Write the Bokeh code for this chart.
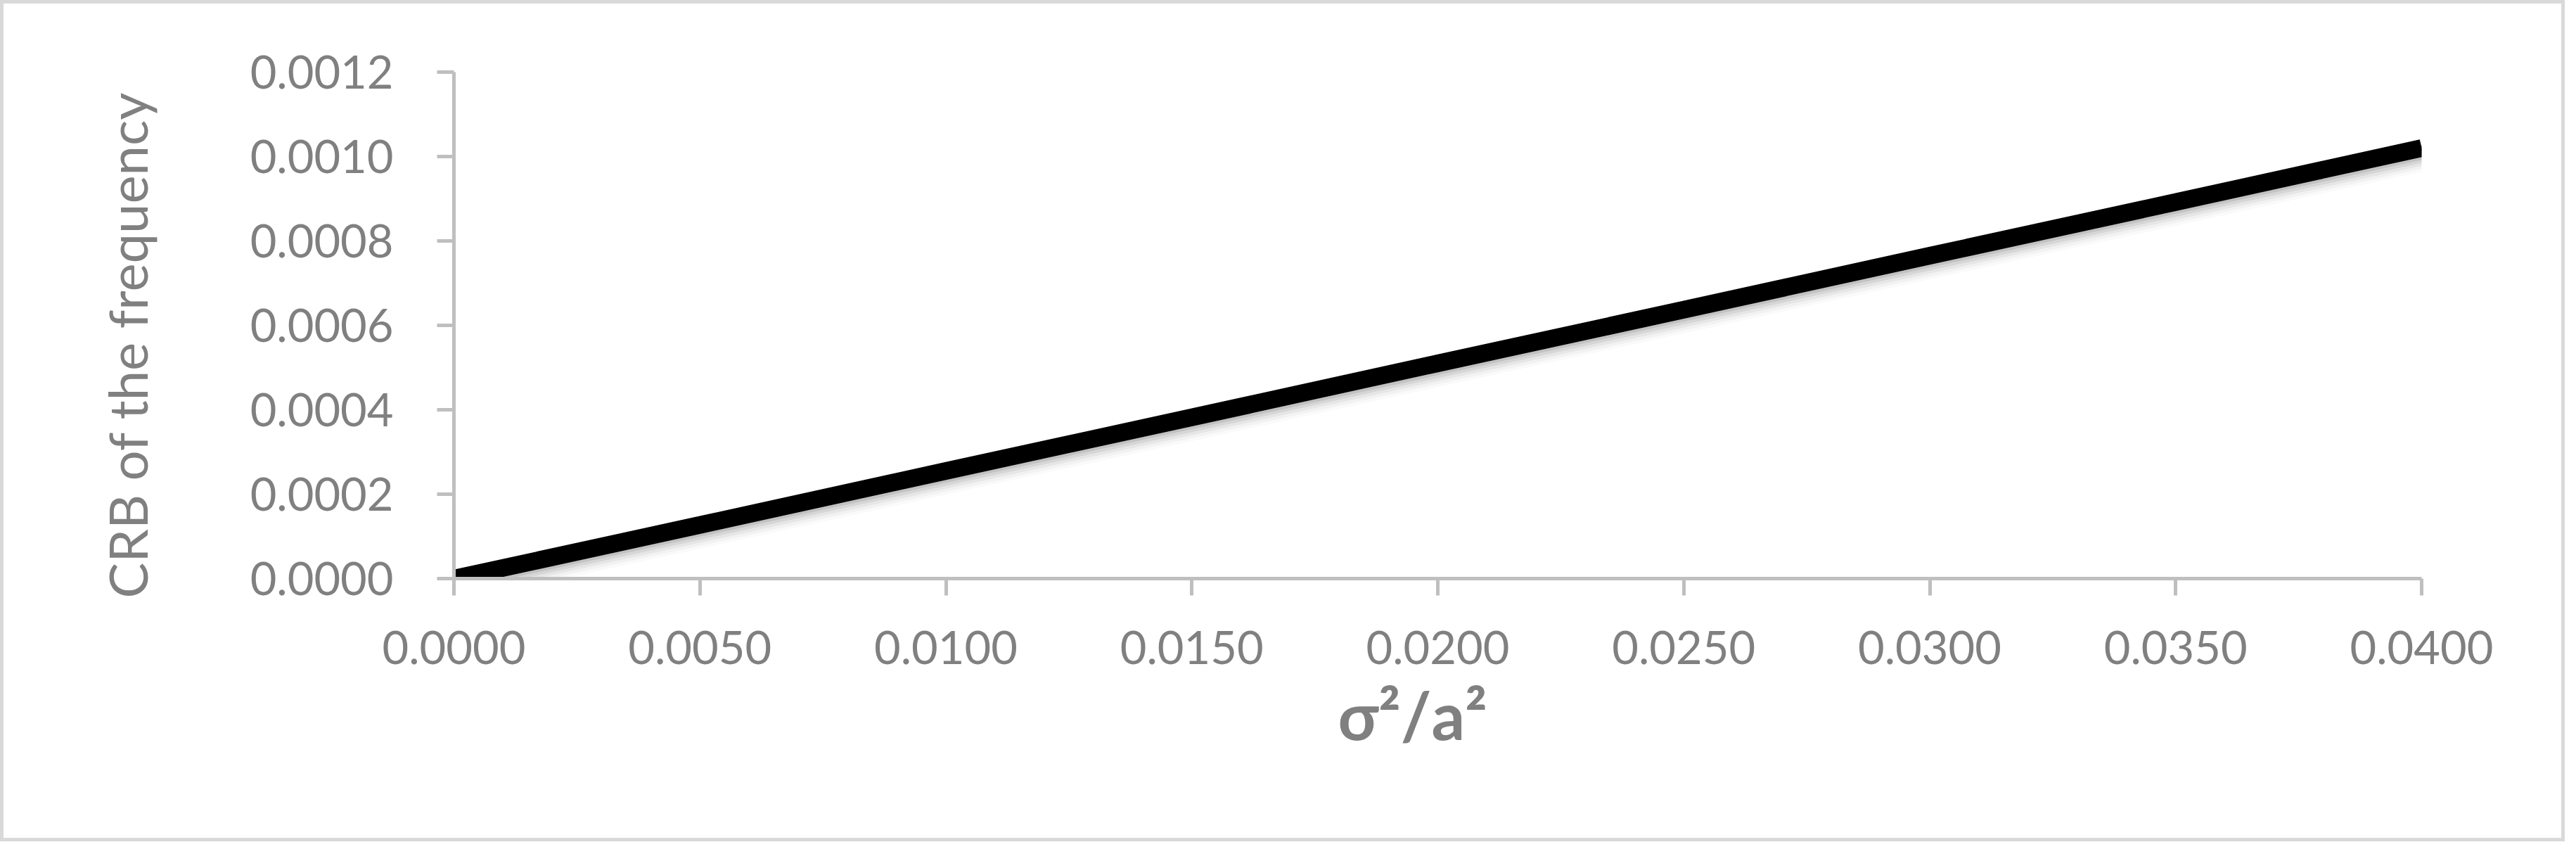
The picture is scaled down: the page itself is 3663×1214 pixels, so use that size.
from bokeh.plotting import figure
from bokeh.models import Range1d, FixedTicker, PrintfTickFormatter, ColumnDataSource, Title
from bokeh.transform import dodge
from bokeh.embed import file_html
from bokeh.resources import INLINE

# ---- data ----
x_values = [0.0000, 0.0050, 0.0100, 0.0150, 0.0200, 0.0250, 0.0300, 0.0350, 0.0400]
crb_values = [0.0000, 0.000127, 0.000255, 0.000382, 0.000510, 0.000637, 0.000765, 0.000892, 0.001020]
x_ticks = [0.0, 0.005, 0.01, 0.015, 0.02, 0.025, 0.03, 0.035, 0.04]
y_ticks = [0.0, 0.0002, 0.0004, 0.0006, 0.0008, 0.0010, 0.0012]
x_title = "σ²/a²"
y_title = "CRB of the frequency"

FONT = "Lato"
GRAY = "#808080"
AXIS = "#bfbfbf"
W, H = 3647, 1196

src = ColumnDataSource(dict(x=x_values, y=crb_values))

p = figure(width=W, height=H, output_backend="svg", toolbar_location=None,
           x_range=Range1d(0, 0.04), y_range=Range1d(0, 0.0012),
           min_border_left=639, min_border_right=209, min_border_top=97, min_border_bottom=379)
p.styles = {"border": "5px solid #d9d9d9"}
p.background_fill_color = "white"
p.border_fill_color = "white"
p.outline_line_color = None
p.grid.visible = False

# shadow imitation
for off, a in [(-0.000006, 0.16), (-0.000013, 0.12), (-0.000020, 0.08), (-0.000027, 0.05), (-0.000034, 0.03)]:
    p.line(x=dodge("x", 0.00003, range=p.x_range), y=dodge("y", off, range=p.y_range), source=src,
           line_color="#606060", line_alpha=a, line_width=25)

p.line("x", "y", source=src, line_color="#2470c8", line_width=7, line_cap="round")
p.line("x", "y", source=src, line_color="black", line_width=25, line_cap="butt")

for ax in (p.xaxis[0], p.yaxis[0]):
    ax.axis_line_color = AXIS
    ax.axis_line_width = 5
    ax.major_tick_line_color = AXIS
    ax.major_tick_line_width = 5
    ax.major_tick_out = 24
    ax.major_tick_in = 0
    ax.minor_tick_line_color = None
    ax.major_label_text_color = GRAY
    ax.major_label_text_font = FONT
    ax.major_label_text_font_size = "65px"

p.xaxis[0].ticker = FixedTicker(ticks=x_ticks)
p.yaxis[0].ticker = FixedTicker(ticks=y_ticks)
p.xaxis[0].formatter = PrintfTickFormatter(format="%.4f")
p.yaxis[0].formatter = PrintfTickFormatter(format="%.4f")
p.xaxis[0].major_label_standoff = 50
p.yaxis[0].major_label_standoff = 62

# axis titles as side titles (left-aligned with an offset along the axis)
p.add_layout(Title(text=x_title, align="left", offset=1257, standoff=20,
                   text_font=FONT, text_font_size="94px", text_font_style="bold",
                   text_color=GRAY), "below")
p.add_layout(Title(text=y_title, align="left", offset=-28, standoff=254,
                   text_font=FONT, text_font_size="76px", text_font_style="normal",
                   text_color=GRAY), "left")

open("out.html", "w").write(file_html(p, INLINE))
